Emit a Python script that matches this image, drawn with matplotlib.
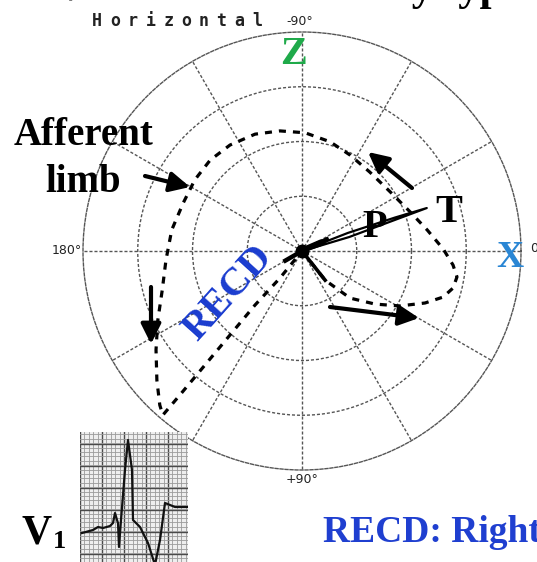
import numpy as np
import matplotlib
matplotlib.use("Agg")
import matplotlib.pyplot as plt
from matplotlib.patches import FancyArrowPatch

W, H = 537, 562

# polar grid: 4 rings, spokes every 30 degrees
ring_r = [1, 2, 3]
spoke_deg = list(range(0, 360, 30))

# QRS loop, horizontal plane (degrees clockwise from X, radius in ring units)
qrs_theta = [51.6, 51.6, 44.4, 36.0, 29.3, 22.9, 18.1, 13.8, 9.5, 5.3, -0.8, -9.5,
             -19.9, -33.8, -49.3, -63.4, -75.6, -88.5, -100.4, -111.9, -124.2,
             -135.3, -146.4, -158.0, -170.8, 176.2, 164.4, 154.4, 145.9, 138.3,
             132.7, 130.3, 130.3, 130.4, 130.6, 131.0, 129.2, 129.2]
qrs_r = [0.0, 0.68, 1.23, 1.65, 2.05, 2.44, 2.71, 2.84, 2.87, 2.77, 2.58, 2.32,
         2.10, 1.94, 1.90, 1.96, 2.06, 2.16, 2.23, 2.30, 2.34, 2.36, 2.35, 2.34,
         2.41, 2.49, 2.65, 2.92, 3.22, 3.55, 3.83, 3.93, 3.45, 2.73, 2.02, 1.31,
         0.64, 0.0]

# T loop and P loop (narrow, near origin)
t_theta = [-14.0, -16.5, -18.5, -19.0, -19.8, -21.5, -24.0]
t_r = [0.05, 0.9, 1.8, 2.41, 1.8, 0.9, 0.05]
p_theta = [-5.0, -17.0, -23.5, -30.0, -45.0, -5.0]
p_r = [0.08, 0.36, 0.46, 0.38, 0.12, 0.08]

# V1 tracing (inset units)
ecg_t = [2, 13, 18, 23, 30, 33, 35, 37, 38, 39, 41, 45, 48, 52, 53, 60, 68, 75,
         80, 85, 90, 95, 107]
ecg_v = [29, 32, 35, 34, 36, 39, 49, 42, 39, 15, 42, 92, 122, 92, 42, 35, 19, -3,
         22, 59, 57, 55, 55]


def fx(x):
    return x / W


def fy(y):
    return 1 - y / H


fig = plt.figure(figsize=(W / 100, H / 100), dpi=100)
fig.patch.set_facecolor("white")

cx, cy, R = 302, 251, 219
ax = fig.add_axes([fx(cx - R), fy(cy + R), 2 * R / W, 2 * R / H], projection="polar")
ax.set_facecolor("none")
ax.set_theta_zero_location("E")
ax.set_theta_direction(-1)
ax.set_ylim(0, 4)
ax.set_xticks(np.deg2rad(spoke_deg))
ax.set_xticklabels([])
ax.set_yticks(ring_r)
ax.set_yticklabels([])
ax.tick_params(length=0)
grid_ls = (0, (2.2, 1.4))
ax.grid(True, color="#555555", linewidth=1.0, linestyle=grid_ls)
ax.spines["polar"].set_linestyle(grid_ls)
ax.spines["polar"].set_color("#555555")
ax.spines["polar"].set_linewidth(1.0)

# QRS loop
th = np.unwrap(np.deg2rad(qrs_theta))
ax.plot(th, qrs_r, color="black", lw=2.3, ls=(0, (2.2, 2.2)), solid_capstyle="butt")
ax.plot(th[:2], qrs_r[:2], color="black", lw=2.6)

# T and P loops
ax.plot(np.deg2rad(t_theta), t_r, color="black", lw=1.6)
ax.plot(np.deg2rad(p_theta), p_r, color="black", lw=1.4)
ax.plot(np.deg2rad([150, 150, -25]), [0.35, 0.0, 0.5], color="black", lw=3.2)
ax.plot([0], [0], "o", color="black", ms=9)

# arrows (picture pixels, from top-left)
arrows = [((145, 176), (190, 187)),
          ((151, 287), (151, 344)),
          ((412, 188), (368, 152)),
          ((330, 307), (419, 318))]
for (x0, y0), (x1, y1) in arrows:
    fig.add_artist(FancyArrowPatch(
        (x0, H - y0), (x1, H - y1), transform=None,
        arrowstyle="-|>,head_length=0.8,head_width=0.4", mutation_scale=15,
        lw=3, color="black", shrinkA=0, shrinkB=0))

serif = "Liberation Serif"

# slide title, cut off at the top edge as in the source
fig.text(fx(55), fy(0), "Variant of normality type", family=serif, weight="bold",
         fontsize=31, ha="left", va="baseline", color="black")

# plane name and angle labels
hz = "Horizontal"
for i, ch in enumerate(hz):
    fig.text(fx(97 + i * 17.8), fy(26), ch, family="DejaVu Sans Mono",
             weight="bold", fontsize=12, ha="center", va="baseline", color="#222222")
small = dict(family="DejaVu Sans", fontsize=9, color="#222222")
fig.text(fx(300), fy(25), "-90°", ha="center", va="baseline", **small)
fig.text(fx(82), fy(250), "180°", ha="right", va="center", **small)
fig.text(fx(302), fy(483), "+90°", ha="center", va="baseline", **small)
fig.text(fx(530), fy(249), "0", ha="left", va="center", **small)

# axis letters
fig.text(fx(294), fy(64), "Z", family=serif, weight="bold", fontsize=29,
         color="#1faa4a", ha="center", va="baseline")
fig.text(fx(510), fy(267), "X", family=serif, weight="bold", fontsize=27,
         color="#2a86d4", ha="center", va="baseline")
fig.text(fx(375), fy(237), "P", family=serif, weight="bold", fontsize=29,
         color="black", ha="center", va="baseline")
fig.text(fx(449), fy(222), "T", family=serif, weight="bold", fontsize=29,
         color="black", ha="center", va="baseline")

fig.text(fx(83), fy(145), "Afferent", family=serif, weight="bold", fontsize=28,
         ha="center", va="baseline")
fig.text(fx(83), fy(192), "limb", family=serif, weight="bold", fontsize=28,
         ha="center", va="baseline")

fig.text(fx(228), fy(293), "RECD", family=serif, weight="bold", fontsize=29,
         color="#1a3ccf", ha="center", va="center", rotation=48,
         rotation_mode="anchor")

fig.text(fx(22), fy(543), "V", family=serif, weight="bold", fontsize=30,
         ha="left", va="baseline")
fig.text(fx(53), fy(548), "1", family=serif, weight="bold", fontsize=19,
         ha="left", va="baseline")

fig.text(fx(323), fy(542), "RECD: Right End Conduction Delay", family=serif,
         weight="bold", fontsize=27, color="#1f3fd0", ha="left", va="baseline")

# V1 inset
ax2 = fig.add_axes([fx(80), 0, 108 / W, 130 / H])
ax2.set_facecolor("#eeeeee")
ax2.set_xlim(0, 108)
ax2.set_ylim(0, 130)
ax2.set_xticks(np.arange(0, 109, 22))
ax2.set_yticks(np.arange(8, 131, 22))
ax2.set_xticks(np.arange(0, 109, 4.4), minor=True)
ax2.set_yticks(np.arange(0, 131, 4.4), minor=True)
ax2.grid(True, which="minor", color="#9a9a9a", lw=0.6)
ax2.grid(True, which="major", color="#4a4a4a", lw=1.0)
ax2.tick_params(which="both", length=0, labelbottom=False, labelleft=False)
for s in ax2.spines.values():
    s.set_visible(False)
ax2.plot(ecg_t, ecg_v, color="#111111", lw=1.6, zorder=3)

fig.savefig("out.png", dpi=100)
